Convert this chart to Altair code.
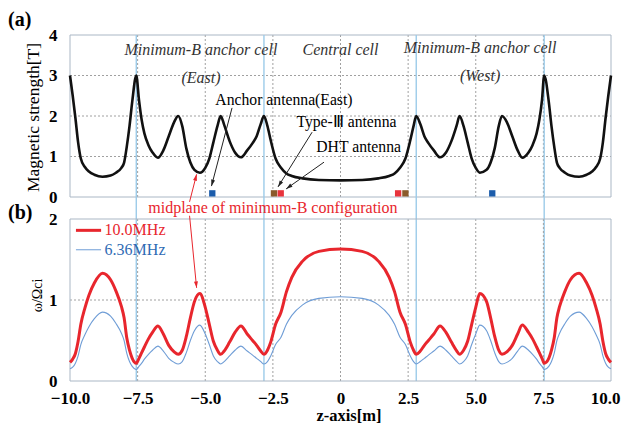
import math
import altair as alt
import pandas as pd

# ---------------- data ----------------
z = [-10.0, -9.9, -9.8, -9.7, -9.6, -9.45, -9.3, -9.1, -8.8, -8.5, -8.3, -8.1, -8.0, -7.9, -7.8, -7.7,
     -7.55, -7.45, -7.35, -7.25, -7.1, -6.95, -6.75, -6.55, -6.35, -6.15, -6.0, -5.85, -5.7, -5.55,
     -5.4, -5.2, -5.0, -4.85, -4.7, -4.55, -4.43, -4.3, -4.1, -3.9, -3.68, -3.45, -3.25, -3.1, -2.95,
     -2.83, -2.7, -2.58, -2.4, -2.2, -2.0, -1.8, -1.4, -0.8,
     0.0,
     0.8, 1.4, 1.8, 2.0, 2.2, 2.4, 2.58, 2.7, 2.80, 2.95, 3.1, 3.25, 3.45, 3.68, 3.9, 4.1, 4.3, 4.40,
     4.55, 4.7, 4.85, 5.0, 5.15, 5.4, 5.55, 5.7, 5.85, 5.97, 6.15, 6.35, 6.55, 6.72, 6.95, 7.1, 7.25,
     7.35, 7.45, 7.53, 7.7, 7.8, 7.9, 8.0, 8.1, 8.3, 8.5, 8.82, 9.1, 9.3, 9.45, 9.6, 9.7, 9.8, 9.9, 10.0]

b_field = [3.00, 2.50, 1.95, 1.35, 0.95, 0.74, 0.63, 0.55, 0.50, 0.53, 0.60, 0.72, 0.85, 1.25, 1.75, 2.35,
           3.00, 2.40, 1.90, 1.57, 1.28, 1.10, 0.97, 1.15, 1.50, 1.85, 2.00, 1.75, 1.20, 0.85,
           0.67, 0.60, 0.72, 0.95, 1.35, 1.75, 2.00, 1.78, 1.38, 1.10, 0.98, 1.15, 1.33, 1.50, 1.80,
           2.00, 1.75, 1.40, 0.95, 0.72, 0.58, 0.52, 0.46, 0.42,
           0.41,
           0.42, 0.46, 0.52, 0.58, 0.72, 0.95, 1.40, 1.75, 2.00, 1.80, 1.50, 1.33, 1.15, 0.98, 1.10, 1.38, 1.78, 2.00,
           1.75, 1.35, 0.95, 0.72, 0.60, 0.67, 0.85, 1.20, 1.75, 2.00, 1.85, 1.50, 1.15, 0.97, 1.10, 1.28, 1.57,
           1.90, 2.40, 3.00, 2.35, 1.75, 1.25, 0.85, 0.72, 0.60, 0.53, 0.50, 0.55, 0.63, 0.74, 0.95, 1.35, 1.95, 2.50, 3.00]

omega_10mhz = [0.23, 0.27, 0.34, 0.49, 0.70, 0.90, 1.06, 1.21, 1.33, 1.25, 1.11, 0.92, 0.78, 0.53, 0.38, 0.28,
               0.22, 0.28, 0.35, 0.42, 0.52, 0.60, 0.68, 0.58, 0.44, 0.36, 0.33, 0.38, 0.55, 0.78,
               0.98, 1.08, 0.91, 0.70, 0.49, 0.38, 0.33, 0.37, 0.48, 0.60, 0.68, 0.58, 0.50, 0.44, 0.37,
               0.33, 0.38, 0.48, 0.70, 0.85, 1.10, 1.28, 1.48, 1.60,
               1.63,
               1.60, 1.48, 1.28, 1.10, 0.85, 0.70, 0.48, 0.38, 0.33, 0.37, 0.44, 0.50, 0.58, 0.68, 0.60, 0.48, 0.37, 0.33,
               0.38, 0.49, 0.70, 0.91, 1.08, 0.98, 0.78, 0.55, 0.38, 0.33, 0.36, 0.44, 0.58, 0.69, 0.60, 0.52, 0.42,
               0.35, 0.28, 0.22, 0.28, 0.38, 0.53, 0.78, 0.92, 1.11, 1.25, 1.33, 1.21, 1.06, 0.90, 0.70, 0.49, 0.34, 0.27, 0.23]

omega_636mhz = [0.15, 0.17, 0.22, 0.31, 0.45, 0.57, 0.67, 0.77, 0.85, 0.80, 0.71, 0.59, 0.50, 0.34, 0.24, 0.18,
                0.14, 0.18, 0.22, 0.27, 0.33, 0.38, 0.43, 0.37, 0.28, 0.23, 0.21, 0.24, 0.35, 0.50,
                0.62, 0.69, 0.58, 0.45, 0.31, 0.24, 0.21, 0.24, 0.31, 0.38, 0.43, 0.37, 0.32, 0.28, 0.24,
                0.21, 0.24, 0.31, 0.45, 0.54, 0.70, 0.81, 0.94, 1.02,
                1.04,
                1.02, 0.94, 0.81, 0.70, 0.54, 0.45, 0.31, 0.24, 0.21, 0.24, 0.28, 0.32, 0.37, 0.43, 0.38, 0.31, 0.24, 0.21,
                0.24, 0.31, 0.45, 0.58, 0.69, 0.62, 0.50, 0.35, 0.24, 0.21, 0.23, 0.28, 0.37, 0.43, 0.38, 0.33, 0.27,
                0.22, 0.18, 0.14, 0.18, 0.24, 0.34, 0.50, 0.59, 0.71, 0.80, 0.85, 0.77, 0.67, 0.57, 0.45, 0.31, 0.22, 0.17, 0.15]

antenna_z = [-4.74, -2.46, -2.21, 2.13, 2.40, 5.61]
antenna_kind = ["Anchor", "Type-III", "DHT", "DHT", "Type-III", "Anchor"]
antenna_colors = {"Anchor": "#1b5cab", "Type-III": "#8a5a2b", "DHT": "#e8333c"}

cell_boundary_z = [-7.55, -2.83, 2.80, 7.53]
grid_z = [-7.5, -5.0, -2.5, 0.0, 2.5, 5.0, 7.5]
grid_b = [1, 2, 3]
grid_w = [1]
x_ticks = [-10.0, -7.5, -5.0, -2.5, 0.0, 2.5, 5.0, 7.5, 10.0]

# ---------------- layout / style ----------------
W = 541          # plot width
H = 162          # height of each panel
GAP = 22         # gap between the panels
HT = 2 * H + GAP  # total plot height
LEFT, TOP = 62, 27
SVG_W, SVG_H = 613, 416
FONT = "Liberation Serif"
RED = "#e8262d"
BLUE_CURVE = "#6f9dd6"
BLUE_TEXT = "#2e6bb4"
CELL_LINE = "#9ccbe9"
GRID = "#a0a0a0"
FRAME = "#aab7c5"

PX = W / 20.0
PY_A = H / 4.0
PY_B = H / 2.0

xs = alt.Scale(domain=[-10, 10], nice=False, zero=False)
# panel (a) occupies the top H pixels, panel (b) the bottom H pixels of one plot area
ys_a = alt.Scale(domain=[4 - HT / PY_A, 4], nice=False, zero=False)
ys_b = alt.Scale(domain=[0, HT / PY_B], nice=False, zero=False)

curve = pd.DataFrame({"z": z, "b": b_field, "r": omega_10mhz, "u": omega_636mhz})
antennas = pd.DataFrame({"z": antenna_z, "kind": antenna_kind,
                         "col": [antenna_colors[k] for k in antenna_kind]})


def one(**cols):
    return pd.DataFrame({k: [v] for k, v in cols.items()})


def txt(text, zz, yy, ys, size=15, color="black", style="normal", weight="normal", align="center"):
    return alt.Chart(one(t=text, z=zz, v=yy)).mark_text(
        font=FONT, fontSize=size, color=color, fontStyle=style, fontWeight=weight,
        align=align, baseline="middle"
    ).encode(x=alt.X("z:Q", scale=xs), y=alt.Y("v:Q", scale=ys), text="t:N")


def arrow(z1, v1, z2, v2, ys, pxv, color, width=1.0):
    d = one(z=z1, v=v1, z2=z2, v2=v2)
    line = alt.Chart(d).mark_rule(color=color, strokeWidth=width).encode(
        x=alt.X("z:Q", scale=xs), y=alt.Y("v:Q", scale=ys), x2="z2:Q", y2="v2:Q")
    dx = (z2 - z1) * PX
    dy = -(v2 - v1) * pxv
    ang = math.degrees(math.atan2(dx, -dy)) % 360
    head = alt.Chart(d).mark_point(shape="M0,0L-0.5,1.6L0.5,1.6Z", filled=True, size=64,
                                   color=color, opacity=1, strokeWidth=0, angle=ang).encode(
        x=alt.X("z2:Q", scale=xs), y=alt.Y("v2:Q", scale=ys))
    return [line, head]


def frame(ys, top):
    return alt.Chart(one(z=-10.0, z2=10.0, v=0.0, v2=top)).mark_rect(
        fill=None, stroke=FRAME, strokeWidth=1).encode(
        x=alt.X("z:Q", scale=xs), x2="z2:Q", y=alt.Y("v:Q", scale=ys), y2="v2:Q")


def vgrid(ys, top):
    return alt.Chart(pd.DataFrame({"z": grid_z, "v": 0.0, "v2": top})).mark_rule(
        color=GRID, strokeDash=[2, 2], strokeWidth=1).encode(
        x=alt.X("z:Q", scale=xs), y=alt.Y("v:Q", scale=ys), y2="v2:Q")


def hgrid(vals, ys):
    return alt.Chart(pd.DataFrame({"v": vals, "z": -10.0, "z2": 10.0})).mark_rule(
        color=GRID, strokeDash=[2, 2], strokeWidth=1).encode(
        y=alt.Y("v:Q", scale=ys), x=alt.X("z:Q", scale=xs), x2="z2:Q")


def panel_label(text, ypx):
    return alt.Chart(one(t=text)).mark_text(
        font=FONT, fontSize=20, fontWeight="bold", align="left", baseline="middle", color="black"
    ).encode(x=alt.value(-LEFT), y=alt.value(ypx), text="t:N")


# ---------------- panel (a) ----------------
line_a = alt.Chart(curve).mark_line(color="#111111", strokeWidth=2.6, interpolate="monotone").encode(
    x=alt.X("z:Q", scale=xs),
    y=alt.Y("b:Q", scale=ys_a, axis=alt.Axis(
        orient="left", values=[0, 1, 2, 3, 4], format="d", grid=False, ticks=False, domain=False,
        labelFont=FONT, labelFontSize=17, labelFontWeight="bold", labelColor="black", labelPadding=13,
        title="Magnetic strength[T]", titleFont=FONT, titleFontSize=17.5, titleFontWeight="normal",
        titleColor="black", titleAngle=-90, titleX=-37, titleY=H / 2 + 1, titleAlign="center",
        titleBaseline="middle")),
)

ant = alt.Chart(antennas.assign(v=0.09)).mark_square(size=40, opacity=1).encode(
    x=alt.X("z:Q", scale=xs), y=alt.Y("v:Q", scale=ys_a), color=alt.Color("col:N", scale=None))

cells = alt.Chart(pd.DataFrame({"z": cell_boundary_z})).mark_rule(
    color=CELL_LINE, strokeWidth=1.4).encode(
    x=alt.X("z:Q", scale=xs), y=alt.value(0), y2=alt.value(HT))

layers_a = [vgrid(ys_a, 4.0), hgrid(grid_b, ys_a), frame(ys_a, 4.0), cells, line_a, ant]
layers_a += arrow(-4.01, 2.20, -4.77, 0.27, ys_a, PY_A, "#222222")
layers_a += arrow(-1.05, 1.60, -2.31, 0.25, ys_a, PY_A, "#222222")
layers_a += arrow(-0.61, 0.86, -2.01, 0.20, ys_a, PY_A, "#222222")
layers_a += arrow(-5.58, -0.12, -5.32, 0.56, ys_a, PY_A, RED)
layers_a += [
    txt("Minimum-B anchor cell", -5.16, 3.63, ys_a, size=16, style="italic", color="#333333"),
    txt("(East)", -5.16, 2.94, ys_a, size=16, style="italic", color="#333333"),
    txt("Central cell", 0.0, 3.63, ys_a, size=16, style="italic", color="#333333"),
    txt("Minimum-B anchor cell", 5.16, 3.68, ys_a, size=16, style="italic", color="#333333"),
    txt("(West)", 5.16, 2.99, ys_a, size=16, style="italic", color="#333333"),
    txt("Anchor antenna(East)", -2.09, 2.40, ys_a, size=15.7),
    txt("Type-Ⅲ antenna", 0.22, 1.85, ys_a, size=15.7),
    txt("DHT antenna", 0.67, 1.24, ys_a, size=15.7),
    txt("midplane of minimum-B configuration", -2.50, -0.28, ys_a, size=16, color=RED),
    panel_label("(a)", -15),
]
group_a = alt.layer(*layers_a)

# ---------------- panel (b) ----------------
yaxis_b = alt.Axis(orient="left", values=[0, 1, 2], format="d", grid=False, ticks=False, domain=False,
                   labelFont=FONT, labelFontSize=17, labelFontWeight="bold", labelColor="black",
                   labelPadding=13, title="ω/Ωci", titleFont=FONT, titleFontSize=14,
                   titleFontWeight="normal", titleColor="black", titleAngle=-90, titleX=-33,
                   titleY=H + GAP + H / 2 - 5, titleAlign="center", titleBaseline="middle")
xaxis_b = alt.Axis(values=x_ticks, grid=False, ticks=False, domain=False,
                   labelExpr="datum.value == 0 ? '0' : format(datum.value, '.1f')",
                   labelOffset={"condition": {"test": "datum.value == 10", "value": -6}, "value": 0},
                   labelFont=FONT, labelFontSize=17, labelFontWeight="bold", labelColor="black",
                   labelPadding=9, labelFlush=False,
                   title="z-axis[m]", titleFont=FONT, titleFontSize=16.5, titleFontWeight="bold",
                   titleColor="black", titleX=W / 2 + 8, titleY=34.5, titleBaseline="middle")

blue_b = alt.Chart(curve).mark_line(color=BLUE_CURVE, strokeWidth=1.1, interpolate="monotone").encode(
    x=alt.X("z:Q", scale=xs, axis=xaxis_b), y=alt.Y("u:Q", scale=ys_b, axis=yaxis_b))
red_b = alt.Chart(curve).mark_line(color=RED, strokeWidth=3, interpolate="monotone").encode(
    x=alt.X("z:Q", scale=xs), y=alt.Y("r:Q", scale=ys_b))

leg_red = alt.Chart(one(z=-9.78, z2=-8.85, v=1.86)).mark_rule(color=RED, strokeWidth=3).encode(
    x=alt.X("z:Q", scale=xs), x2="z2:Q", y=alt.Y("v:Q", scale=ys_b))
leg_blue = alt.Chart(one(z=-9.78, z2=-8.85, v=1.62)).mark_rule(color=BLUE_CURVE, strokeWidth=1).encode(
    x=alt.X("z:Q", scale=xs), x2="z2:Q", y=alt.Y("v:Q", scale=ys_b))

layers_b = [vgrid(ys_b, 2.0), hgrid(grid_w, ys_b), frame(ys_b, 2.0), blue_b, red_b, leg_red, leg_blue,
            txt("10.0MHz", -8.72, 1.86, ys_b, size=16, color=RED, align="left"),
            txt("6.36MHz", -8.72, 1.62, ys_b, size=16, color=BLUE_TEXT, align="left")]
layers_b += arrow(-5.58, 2.04, -5.32, 1.15, ys_b, PY_B, RED)
layers_b += [panel_label("(b)", H + GAP - 6)]
group_b = alt.layer(*layers_b)

chart = alt.layer(group_a, group_b).resolve_scale(y="independent").properties(
    width=W, height=HT,
    autosize=alt.AutoSizeParams(type="none"),
    padding={"left": LEFT, "top": TOP, "right": SVG_W - LEFT - W, "bottom": SVG_H - TOP - HT},
).configure(font=FONT).configure_view(stroke=None)

chart.save("out.html", embed_options={"renderer": "svg", "actions": False})
